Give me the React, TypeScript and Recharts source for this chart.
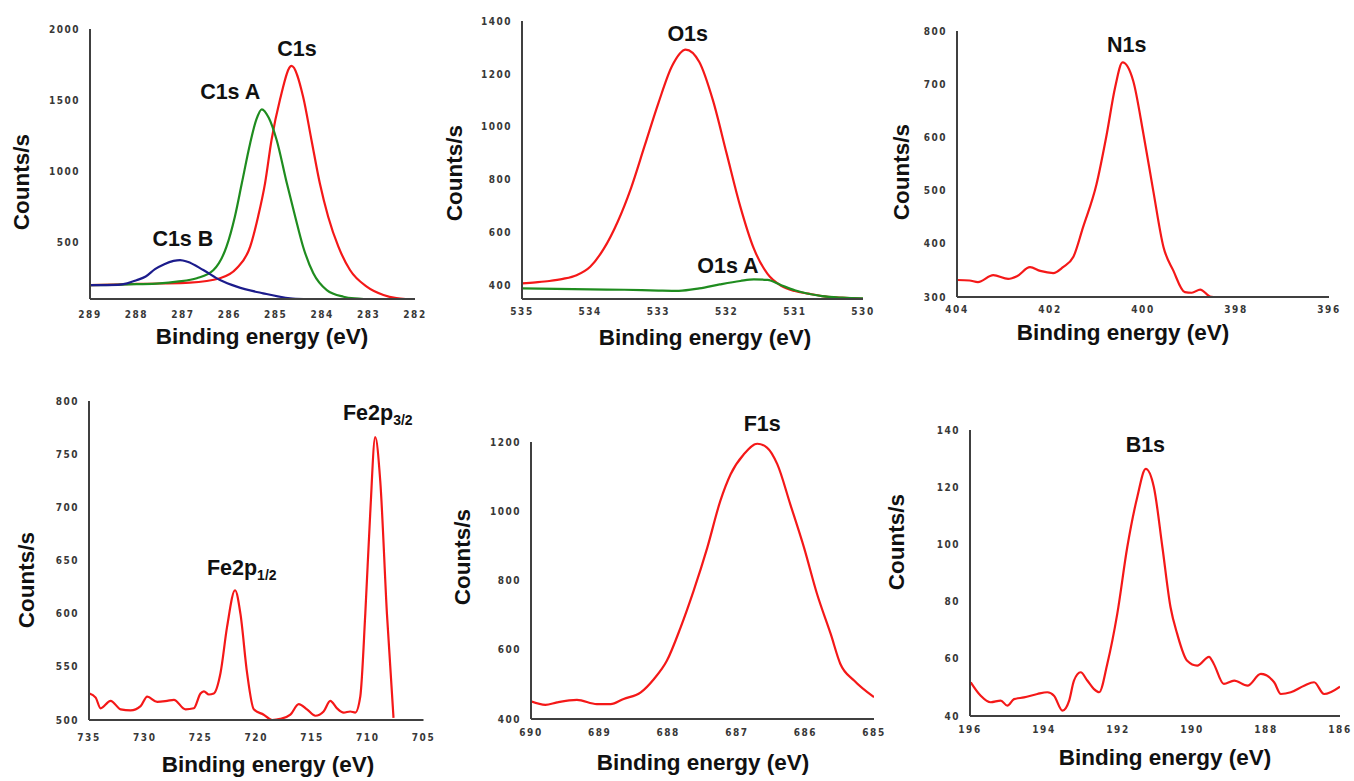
import React from 'react';
import { LineChart, Line, XAxis, YAxis, ReferenceDot } from 'recharts';

// ---------- data (binding energy eV, counts/s) ----------
const c1sMain: number[][] = [
  [289.0, 198], [288.5, 202], [288.0, 206], [287.5, 209], [286.85, 215], [286.2, 246], [285.84, 316],
  [285.55, 468], [285.38, 679], [285.23, 914], [285.09, 1219], [284.91, 1500], [284.66, 1740],
  [284.41, 1524], [284.23, 1219], [284.05, 914], [283.87, 679], [283.65, 468], [283.4, 304],
  [283.04, 187], [282.68, 128], [282.4, 106], [282.2, 100],
];
const c1sA: number[][] = [
  [289.0, 198], [288.5, 200], [288.0, 204], [287.5, 210], [287.13, 222], [286.7, 246], [286.34, 304],
  [286.06, 468], [285.88, 679], [285.73, 914], [285.55, 1196], [285.42, 1360], [285.3, 1435],
  [285.15, 1375], [284.98, 1219], [284.76, 914], [284.58, 679], [284.41, 468], [284.19, 281],
  [283.9, 163], [283.54, 116], [283.3, 104], [283.1, 100],
];
const c1sB: number[][] = [
  [289.0, 198], [288.4, 200], [288.2, 210], [288.0, 232], [287.8, 258], [287.6, 310], [287.4, 345],
  [287.2, 368], [287.06, 374], [286.9, 362], [286.56, 304], [286.2, 234], [285.84, 187], [285.27, 140],
  [284.69, 105], [284.4, 100],
];
const o1sMain: number[][] = [
  [535.0, 409], [534.8, 413], [534.6, 418], [534.4, 426], [534.2, 440], [534.0, 472], [533.8, 540],
  [533.6, 640], [533.4, 770], [533.2, 930], [533.0, 1090], [532.8, 1230], [532.6, 1292], [532.4, 1245],
  [532.2, 1100], [532.0, 900], [531.8, 700], [531.6, 540], [531.4, 445], [531.2, 400], [531.0, 380],
  [530.8, 370], [530.6, 361], [530.4, 356], [530.2, 353], [530.0, 351],
];
const o1sA: number[][] = [
  [535.0, 390], [534.5, 388], [534.0, 386], [533.5, 385], [533.0, 382], [532.7, 381], [532.4, 390],
  [532.1, 405], [531.8, 418], [531.6, 424], [531.4, 422], [531.2, 402], [531.0, 383], [530.8, 370],
  [530.6, 361], [530.3, 355], [530.0, 352],
];
const n1s: number[][] = [
  [404.0, 332], [403.73, 331], [403.55, 328], [403.22, 341], [402.9, 334], [402.71, 339], [402.43, 356],
  [402.21, 349], [401.93, 345], [401.72, 356], [401.5, 375], [401.29, 431], [401.0, 512], [400.78, 606],
  [400.6, 694], [400.44, 741], [400.21, 706], [399.99, 606], [399.78, 500], [399.56, 394], [399.35, 350],
  [399.1, 309], [398.95, 308], [398.77, 314], [398.56, 301], [398.48, 300],
];
const fe2p: number[][] = [
  [735.0, 525], [734.4, 521], [733.96, 511], [733.06, 518], [732.16, 510], [731.27, 509], [730.37, 513],
  [729.78, 522], [728.88, 517], [727.99, 518], [727.39, 519], [726.34, 510], [725.6, 511], [725.0, 525],
  [724.7, 527], [724.25, 524], [723.81, 525], [723.21, 544], [722.61, 588], [721.9, 622], [721.42, 600],
  [720.82, 544], [720.22, 510], [719.33, 505], [718.58, 500], [717.84, 501], [716.94, 505], [716.19, 515],
  [715.45, 510], [714.7, 504], [713.96, 508], [713.36, 518], [712.76, 511], [712.16, 507], [711.57, 508],
  [711.12, 507], [710.67, 522], [710.22, 600], [709.78, 694], [709.33, 766], [708.88, 725], [708.28, 600],
  [707.69, 502],
];
const f1s: number[][] = [
  [690.0, 451], [689.79, 441], [689.62, 448], [689.33, 455], [689.04, 443], [688.84, 443], [688.65, 458],
  [688.4, 477], [688.21, 515], [688.02, 568], [687.82, 664], [687.63, 770], [687.43, 895], [687.24, 1030],
  [687.09, 1107], [686.9, 1164], [686.7, 1195], [686.56, 1184], [686.41, 1136], [686.22, 1020],
  [686.02, 895], [685.83, 761], [685.63, 645], [685.49, 559], [685.29, 511], [685.0, 463],
];
const b1s: number[][] = [
  [195.98, 51.8], [195.71, 47.1], [195.44, 44.8], [195.17, 45.4], [194.99, 43.6], [194.81, 45.9],
  [194.54, 46.5], [194.18, 47.7], [193.91, 48.3], [193.73, 47.1], [193.5, 41.9], [193.32, 45.4],
  [193.19, 52.4], [193.01, 55.3], [192.83, 52.4], [192.65, 49.4], [192.51, 48.3], [192.29, 58.2],
  [192.02, 75.7], [191.75, 99.0], [191.48, 116.5], [191.25, 126.4], [191.03, 120.0], [190.8, 99.0],
  [190.58, 78.0], [190.4, 68.7], [190.13, 59.3], [189.86, 57.6], [189.54, 60.7], [189.41, 58.2],
  [189.14, 51.2], [188.86, 52.4], [188.5, 50.6], [188.14, 54.7], [187.78, 51.8], [187.6, 47.7],
  [187.33, 48.3], [186.97, 50.6], [186.7, 51.8], [186.43, 47.7], [186.0, 50.3],
];

// ---------- ticks ----------
const c1sXTicks = [282, 283, 284, 285, 286, 287, 288, 289];
const c1sYTicks = [500, 1000, 1500, 2000];
const o1sXTicks = [530, 531, 532, 533, 534, 535];
const o1sYTicks = [400, 600, 800, 1000, 1200, 1400];
const n1sXTicks = [396, 398, 400, 402, 404];
const n1sYTicks = [300, 400, 500, 600, 700, 800];
const feXTicks = [705, 710, 715, 720, 725, 730, 735];
const feYTicks = [500, 550, 600, 650, 700, 750, 800];
const f1sXTicks = [685, 686, 687, 688, 689, 690];
const f1sYTicks = [400, 600, 800, 1000, 1200];
const b1sXTicks = [186, 188, 190, 192, 194, 196];
const b1sYTicks = [40, 60, 80, 100, 120, 140];

// peak annotations: [eV, counts, main text, subscript]
const c1sLabels: [number, number, string, string][] = [
  [284.54, 1866, 'C1s', ''], [285.98, 1557, 'C1s A', ''], [287.0, 529, 'C1s B', ''],
];
const o1sLabels: [number, number, string, string][] = [
  [532.57, 1354, 'O1s', ''], [531.98, 478, 'O1s A', ''],
];
const n1sLabels: [number, number, string, string][] = [[400.35, 775, 'N1s', '']];
const feLabels: [number, number, string, string][] = [
  [709.1, 789, 'Fe2p', '3/2'], [721.3, 643, 'Fe2p', '1/2'],
];
const f1sLabels: [number, number, string, string][] = [[686.63, 1253, 'F1s', '']];
const b1sLabels: [number, number, string, string][] = [[191.26, 134.8, 'B1s', '']];

// ---------- styles ----------
const RED = '#f41818';
const GREEN = '#1f8c1f';
const BLUE = '#1c1c8c';
const AXIS = '#404040';
const FONT = "'Liberation Sans', Arial, sans-serif";
const TICK_FONT = "'DejaVu Sans Condensed', 'Liberation Sans Narrow', 'Liberation Sans', sans-serif";

type Series = { rows: number[][]; color: string };
type PanelProps = {
  box: { left: number; top: number; right: number; bottom: number };
  xDomain: [number, number];
  xTicks: number[];
  yDomain: [number, number];
  yTicks: number[];
  series: Series[];
  labels: [number, number, string, string][];
  xTickMargin: number;
  yTitle: [number, number];
  xTitle: [number, number];
};

const toPts = (rows: number[][]) => rows.map(([e, v]) => ({ e, v }));

const tickStyle = {
  fill: '#383838',
  fontSize: 10,
  fontWeight: 700,
  fontFamily: TICK_FONT,
  letterSpacing: 1.5,
};

function PeakLabel(props: any) {
  const { cx, cy, text, sub } = props;
  if (cx == null || cy == null) return null;
  return (
    <text
      x={cx}
      y={cy + 7.5}
      textAnchor="middle"
      fill="#111"
      fontFamily={FONT}
      fontWeight={700}
      fontSize={21.5}
    >
      <tspan>{text}</tspan>
      {sub ? (
        <tspan fontSize={14} dy={5}>
          {sub}
        </tspan>
      ) : null}
    </text>
  );
}

function Panel(p: PanelProps) {
  const ML = 70, MT = 50, MR = 20, MB = 40;
  const w = p.box.right - p.box.left + ML + MR;
  const h = p.box.bottom - p.box.top + MT + MB;
  const titleStyle: React.CSSProperties = {
    position: 'absolute',
    whiteSpace: 'nowrap',
    fontFamily: FONT,
    fontWeight: 700,
    fontSize: 22.5,
    lineHeight: 1,
    color: '#111',
  };
  return (
    <>
      <div style={{ position: 'absolute', left: p.box.left - ML, top: p.box.top - MT }}>
        <LineChart width={w} height={h} margin={{ top: MT, right: MR, left: 0, bottom: 0 }}>
          <XAxis
            type="number"
            dataKey="e"
            domain={p.xDomain}
            ticks={p.xTicks}
            interval={0}
            reversed
            allowDataOverflow
            height={MB}
            tickLine={false}
            tickSize={0}
            tickMargin={p.xTickMargin}
            axisLine={{ stroke: AXIS, strokeWidth: 2 }}
            tick={tickStyle}
          />
          <YAxis
            type="number"
            domain={p.yDomain}
            ticks={p.yTicks}
            interval={0}
            allowDataOverflow
            width={ML}
            tickLine={false}
            tickSize={0}
            tickMargin={10}
            axisLine={{ stroke: AXIS, strokeWidth: 2 }}
            tick={tickStyle}
          />
          {p.series.map((s, i) => (
            <Line
              key={i}
              data={toPts(s.rows)}
              dataKey="v"
              type="monotone"
              stroke={s.color}
              strokeWidth={2.2}
              dot={false}
              activeDot={false}
              isAnimationActive={false}
            />
          ))}
          {p.labels.map(([e, v, text, sub], i) => (
            <ReferenceDot
              key={'l' + i}
              x={e}
              y={v}
              r={0}
              ifOverflow="visible"
              shape={(sp: any) => <PeakLabel {...sp} text={text} sub={sub} />}
            />
          ))}
        </LineChart>
      </div>
      <div
        style={{
          ...titleStyle,
          left: p.yTitle[0],
          top: p.yTitle[1],
          transform: 'translate(-50%, -50%) rotate(-90deg)',
        }}
      >
        Counts/s
      </div>
      <div
        style={{
          ...titleStyle,
          left: p.xTitle[0],
          top: p.xTitle[1],
          transform: 'translate(-50%, -50%)',
        }}
      >
        Binding energy (eV)
      </div>
    </>
  );
}

export default function App() {
  return (
    <div
      style={{
        position: 'absolute',
        left: 0,
        top: 0,
        width: 1354,
        height: 781,
        background: '#fff',
        overflow: 'hidden',
        fontFamily: FONT,
      }}
    >
      <Panel
        box={{ left: 90, top: 29, right: 415, bottom: 299 }}
        xDomain={[282, 289]}
        xTicks={c1sXTicks}
        yDomain={[100, 2000]}
        yTicks={c1sYTicks}
        series={[
          { rows: c1sMain, color: RED },
          { rows: c1sA, color: GREEN },
          { rows: c1sB, color: BLUE },
        ]}
        labels={c1sLabels}
        xTickMargin={12}
        yTitle={[22, 182]}
        xTitle={[262, 337]}
      />
      <Panel
        box={{ left: 522, top: 21, right: 863, bottom: 299 }}
        xDomain={[530, 535]}
        xTicks={o1sXTicks}
        yDomain={[350, 1400]}
        yTicks={o1sYTicks}
        series={[
          { rows: o1sMain, color: RED },
          { rows: o1sA, color: GREEN },
        ]}
        labels={o1sLabels}
        xTickMargin={9}
        yTitle={[455, 173]}
        xTitle={[705, 338]}
      />
      <Panel
        box={{ left: 957, top: 31, right: 1329, bottom: 297 }}
        xDomain={[396, 404]}
        xTicks={n1sXTicks}
        yDomain={[300, 800]}
        yTicks={n1sYTicks}
        series={[{ rows: n1s, color: RED }]}
        labels={n1sLabels}
        xTickMargin={9}
        yTitle={[902, 172]}
        xTitle={[1123, 333]}
      />
      <Panel
        box={{ left: 88.5, top: 401, right: 423, bottom: 720 }}
        xDomain={[705, 735]}
        xTicks={feXTicks}
        yDomain={[500, 800]}
        yTicks={feYTicks}
        series={[{ rows: fe2p, color: RED }]}
        labels={feLabels}
        xTickMargin={14}
        yTitle={[27, 580]}
        xTitle={[268, 765]}
      />
      <Panel
        box={{ left: 530.5, top: 441.5, right: 873.5, bottom: 718.5 }}
        xDomain={[685, 690]}
        xTicks={f1sXTicks}
        yDomain={[400, 1200]}
        yTicks={f1sYTicks}
        series={[{ rows: f1s, color: RED }]}
        labels={f1sLabels}
        xTickMargin={10}
        yTitle={[463, 557]}
        xTitle={[703, 763]}
      />
      <Panel
        box={{ left: 969.5, top: 430, right: 1339.5, bottom: 716 }}
        xDomain={[186, 196]}
        xTicks={b1sXTicks}
        yDomain={[40, 140]}
        yTicks={b1sYTicks}
        series={[{ rows: b1s, color: RED }]}
        labels={b1sLabels}
        xTickMargin={10}
        yTitle={[897, 542]}
        xTitle={[1165, 758]}
      />
    </div>
  );
}
